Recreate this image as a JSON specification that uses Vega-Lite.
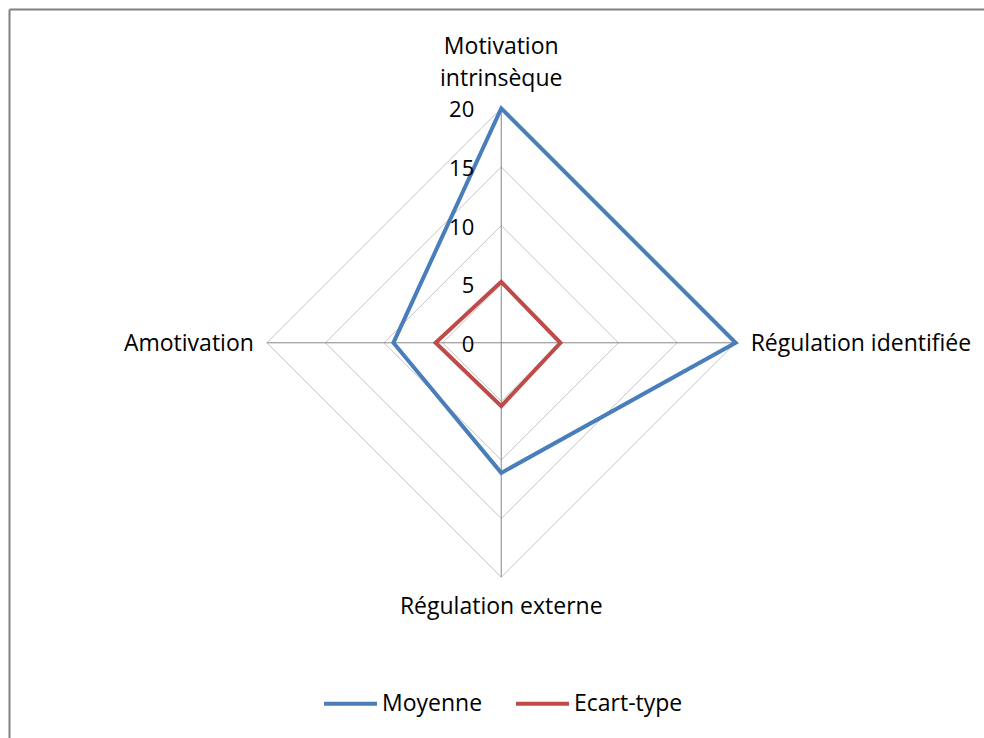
{
  "$schema": "https://vega.github.io/schema/vega-lite/v6.json",
  "width": 975,
  "height": 729,
  "padding": {"left": 9, "top": 9, "right": 0, "bottom": 0},
  "autosize": {"type": "none"},
  "background": "white",
  "config": {
    "view": {"stroke": null},
    "font": "Open Sans",
    "axis": {"domainColor": "#808080", "domainWidth": 2, "ticks": false, "labels": false, "grid": false, "title": null},
    "legend": {
      "orient": "none",
      "legendX": 313,
      "legendY": 666,
      "direction": "horizontal",
      "symbolType": "stroke",
      "symbolSize": 2809,
      "symbolStrokeWidth": 4,
      "labelFontSize": 23,
      "labelFont": "Open Sans",
      "labelColor": "#000000",
      "labelOffset": 3,
      "columnPadding": 25,
      "padding": 0,
      "symbolOffset": 0,
      "title": null
    }
  },
  "datasets": {
    "scores": [
      {"serie": "Moyenne", "axe": "Motivation intrinsèque", "valeur": 20},
      {"serie": "Moyenne", "axe": "Régulation identifiée", "valeur": 20},
      {"serie": "Moyenne", "axe": "Régulation externe", "valeur": 11.1},
      {"serie": "Moyenne", "axe": "Amotivation", "valeur": 9.2},
      {"serie": "Ecart-type", "axe": "Motivation intrinsèque", "valeur": 5.2},
      {"serie": "Ecart-type", "axe": "Régulation identifiée", "valeur": 5.05},
      {"serie": "Ecart-type", "axe": "Régulation externe", "valeur": 5.4},
      {"serie": "Ecart-type", "axe": "Amotivation", "valeur": 5.6}
    ],
    "grille": [
      {"valeur": 5, "axe": "Motivation intrinsèque"},
      {"valeur": 5, "axe": "Régulation identifiée"},
      {"valeur": 5, "axe": "Régulation externe"},
      {"valeur": 5, "axe": "Amotivation"},
      {"valeur": 10, "axe": "Motivation intrinsèque"},
      {"valeur": 10, "axe": "Régulation identifiée"},
      {"valeur": 10, "axe": "Régulation externe"},
      {"valeur": 10, "axe": "Amotivation"},
      {"valeur": 15, "axe": "Motivation intrinsèque"},
      {"valeur": 15, "axe": "Régulation identifiée"},
      {"valeur": 15, "axe": "Régulation externe"},
      {"valeur": 15, "axe": "Amotivation"},
      {"valeur": 20, "axe": "Motivation intrinsèque"},
      {"valeur": 20, "axe": "Régulation identifiée"},
      {"valeur": 20, "axe": "Régulation externe"},
      {"valeur": 20, "axe": "Amotivation"}
    ],
    "graduations": [
      {"valeur": 0, "axe": "Motivation intrinsèque"},
      {"valeur": 5, "axe": "Motivation intrinsèque"},
      {"valeur": 10, "axe": "Motivation intrinsèque"},
      {"valeur": 15, "axe": "Motivation intrinsèque"},
      {"valeur": 20, "axe": "Motivation intrinsèque"}
    ]
  },
  "encoding": {
    "x": {"field": "px", "type": "quantitative", "scale": {"domain": [-42.0, 41.19], "zero": false, "nice": false}, "axis": {"orient": "top"}},
    "y": {"field": "py", "type": "quantitative", "scale": {"domain": [-33.72, 28.48], "zero": false, "nice": false}, "axis": {"orient": "left"}}
  },
  "layer": [
    {
      "data": {"name": "grille"},
      "transform": [
        {"calculate": "indexof(['Motivation intrinsèque','Régulation identifiée','Régulation externe','Amotivation'], datum.axe)", "as": "rang"},
        {"calculate": "datum.rang == 1 ? datum.valeur : (datum.rang == 3 ? -datum.valeur : 0)", "as": "px"},
        {"calculate": "datum.rang == 0 ? datum.valeur : (datum.rang == 2 ? -datum.valeur : 0)", "as": "py"}
      ],
      "mark": {"type": "line", "interpolate": "linear-closed", "stroke": "#C4C4C4", "strokeWidth": 1},
      "encoding": {"detail": {"field": "valeur"}, "order": {"field": "rang"}}
    },
    {
      "data": {"name": "grille"},
      "transform": [
        {"filter": "datum.valeur == 20"},
        {"calculate": "indexof(['Motivation intrinsèque','Régulation identifiée','Régulation externe','Amotivation'], datum.axe)", "as": "rang"},
        {"calculate": "datum.rang == 1 ? datum.valeur : (datum.rang == 3 ? -datum.valeur : 0)", "as": "px"},
        {"calculate": "datum.rang == 0 ? datum.valeur : (datum.rang == 2 ? -datum.valeur : 0)", "as": "py"}
      ],
      "mark": {"type": "rule", "stroke": "#868686", "strokeWidth": 1},
      "encoding": {"x2": {"datum": 0}, "y2": {"datum": 0}}
    },
    {
      "data": {"name": "scores"},
      "transform": [
        {"calculate": "indexof(['Motivation intrinsèque','Régulation identifiée','Régulation externe','Amotivation'], datum.axe)", "as": "rang"},
        {"calculate": "datum.rang == 1 ? datum.valeur : (datum.rang == 3 ? -datum.valeur : 0)", "as": "px"},
        {"calculate": "datum.rang == 0 ? datum.valeur : (datum.rang == 2 ? -datum.valeur : 0)", "as": "py"}
      ],
      "mark": {"type": "line", "interpolate": "linear-closed", "strokeWidth": 4, "strokeJoin": "miter"},
      "encoding": {
        "color": {"field": "serie", "type": "nominal", "scale": {"domain": ["Moyenne", "Ecart-type"], "range": ["#4A7EBB", "#BE4B48"]}},
        "order": {"field": "rang"}
      }
    },
    {
      "data": {"name": "graduations"},
      "transform": [
        {"calculate": "0", "as": "px"},
        {"calculate": "datum.valeur", "as": "py"}
      ],
      "mark": {"type": "text", "align": "right", "baseline": "middle", "dx": -27, "dy": 2, "fontSize": 22, "color": "#000000"},
      "encoding": {"text": {"field": "valeur", "type": "quantitative"}}
    },
    {
      "data": {"name": "grille"},
      "transform": [
        {"filter": "datum.valeur == 20 && datum.axe == 'Motivation intrinsèque'"},
        {"calculate": "0", "as": "px"},
        {"calculate": "datum.valeur", "as": "py"}
      ],
      "mark": {"type": "text", "align": "center", "baseline": "alphabetic", "dy": -54, "fontSize": 23, "color": "#000000", "lineBreak": " ", "lineHeight": 32},
      "encoding": {"text": {"field": "axe"}}
    },
    {
      "data": {"name": "grille"},
      "transform": [
        {"filter": "datum.valeur == 20 && datum.axe == 'Régulation identifiée'"},
        {"calculate": "datum.valeur", "as": "px"},
        {"calculate": "0", "as": "py"}
      ],
      "mark": {"type": "text", "align": "left", "baseline": "alphabetic", "dx": 15, "dy": 8, "fontSize": 23, "color": "#000000"},
      "encoding": {"text": {"field": "axe"}}
    },
    {
      "data": {"name": "grille"},
      "transform": [
        {"filter": "datum.valeur == 20 && datum.axe == 'Régulation externe'"},
        {"calculate": "0", "as": "px"},
        {"calculate": "-datum.valeur", "as": "py"}
      ],
      "mark": {"type": "text", "align": "center", "baseline": "alphabetic", "dy": 37, "fontSize": 23, "color": "#000000"},
      "encoding": {"text": {"field": "axe"}}
    },
    {
      "data": {"name": "grille"},
      "transform": [
        {"filter": "datum.valeur == 20 && datum.axe == 'Amotivation'"},
        {"calculate": "-datum.valeur", "as": "px"},
        {"calculate": "0", "as": "py"}
      ],
      "mark": {"type": "text", "align": "right", "baseline": "alphabetic", "dx": -13, "dy": 8, "fontSize": 23, "color": "#000000"},
      "encoding": {"text": {"field": "axe"}}
    }
  ]
}
